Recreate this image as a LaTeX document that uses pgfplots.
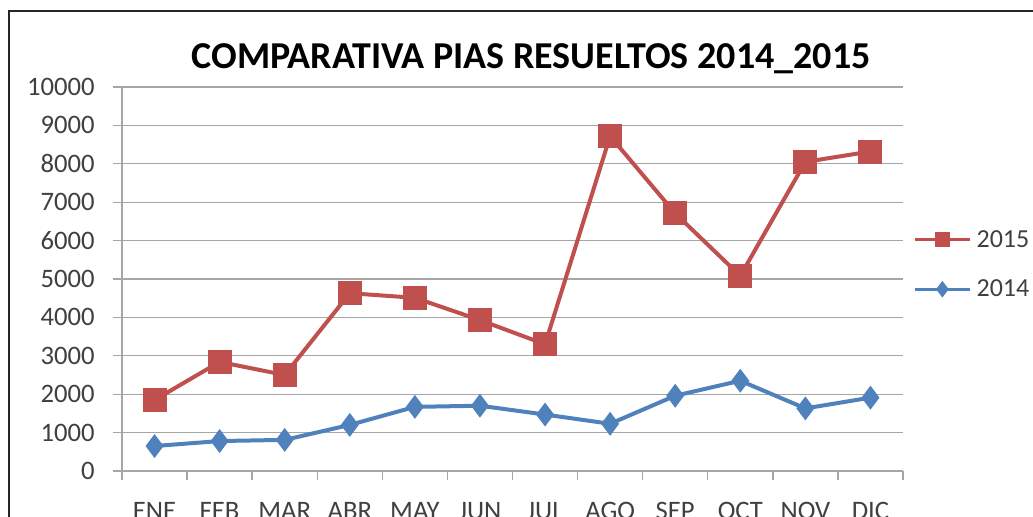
\documentclass[border=0pt]{standalone}
\usepackage{pgfplots}
\pgfplotsset{compat=1.18}
\usepackage{fontspec}
\setmainfont{Carlito}
\definecolor{red15}{HTML}{C0504D}
\definecolor{blue14}{HTML}{4F81BD}
\definecolor{txt}{HTML}{404040}
\definecolor{gridc}{HTML}{A6A6A6}
\begin{document}
\begin{tikzpicture}
\useasboundingbox (0,0) rectangle (774.75pt,387.75pt);
\clip (0,0) rectangle (774.75pt,387.75pt);
\draw[line width=1.5pt, black!85] (6.75pt,-20pt) -- (6.75pt,379.5pt) -- (800pt,379.5pt);
\node[anchor=base, font=\bfseries\fontsize{28.5}{28.5}\selectfont, inner sep=0pt] at (398.25pt,336pt) {COMPARATIVA PIAS RESUELTOS 2014\_2015};
\begin{axis}[
  at={(91.5pt,34.5pt)}, anchor=south west,
  scale only axis, width=585.75pt, height=288pt,
  xmin=0.5, xmax=12.5, ymin=0, ymax=10000,
  xtick={0.5,1.5,...,12.5},
  x tick label as interval,
  xticklabels={ENE,FEB,MAR,ABR,MAY,JUN,JUL,AGO,SEP,OCT,NOV,DIC},
  ytick={0,1000,...,10000},
  scaled y ticks=false,
  /pgf/number format/1000 sep={},
  /pgf/number format/assume math mode=true,
  separate axis lines,
  axis x line*=bottom, axis y line*=left,
  xtick pos=bottom, ytick pos=left,
  axis line style={gridc, line width=1pt},
  tick align=outside, major tick length=6.75pt,
  tick style={gridc, line width=1pt},
  ymajorgrids, xmajorgrids=false, grid style={gridc, line width=1pt},
  ticklabel style={font=\fontsize{20}{20}\selectfont, text=txt, inner sep=0pt},
  xticklabel style={anchor=north, yshift=-16.5pt},
  yticklabel style={anchor=east, xshift=-13.5pt},
  legend image code/.code={\draw[#1, line width=2.5pt, mark size=4.2pt, mark repeat=2, mark phase=2] plot coordinates {(0pt,0pt) (20.6pt,0pt) (41.25pt,0pt)};},
  legend style={at={(1.0128,0.538)}, anchor=west, draw=none, fill=none, inner sep=0pt,
    font=\fontsize{19.5}{19.5}\selectfont, text=txt, row sep=23pt,
    nodes={inner sep=0pt}},
  legend cell align=left,
  /tikz/every odd column/.append style={column sep=3.75pt},
]
\addplot[red15, line width=3pt, mark=square*, mark size=7.5pt, mark options={solid}] coordinates {
(1,1850) (2,2840) (3,2500) (4,4630) (5,4510) (6,3930) (7,3300) (8,8720) (9,6710) (10,5080) (11,8050) (12,8320)};
\addlegendentry{2015}
\addplot[blue14, line width=3pt, mark=diamond*, mark size=6.5pt, mark options={solid}] coordinates {
(1,650) (2,780) (3,810) (4,1200) (5,1670) (6,1700) (7,1470) (8,1230) (9,1960) (10,2350) (11,1630) (12,1910)};
\addlegendentry{2014}
\end{axis}
\end{tikzpicture}
\end{document}
